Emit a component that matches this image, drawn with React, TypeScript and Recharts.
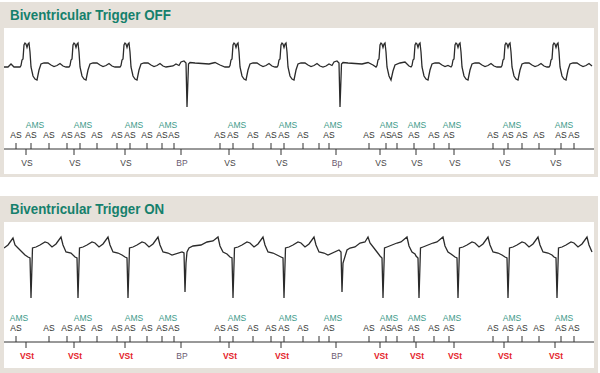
import { ComposedChart, Line, Scatter, XAxis, YAxis } from "recharts";

type Pt = [number, number];

// strip time runs 4..594, amplitude in mm above baseline (1 mm = 10 px here)
const X_MIN = 4;
const X_MAX = 594;

// beat shapes, [offset from the beat marker, amplitude]
const vsBeat: Pt[] = [
  [-7, 0], [-6, 0.15], [-5, 0.7], [-4, 0.8], [-3, 2.2], [-2, 2.4], [-1, 2.3], [0, 1.95],
  [1, 2.3], [2, 2.4], [3, 1.5], [4, 0], [6, -0.9], [8, -1.2], [10, -1.3], [12, -0.3],
  [14, 0.3], [17, 0.4], [21, 0.4], [24, 0.2], [27, 0.05], [30, 0.15], [33, 0.35], [36, 0.1], [39, 0],
];
const vsShortBeat: Pt[] = [
  [-7, 0], [-6, 0.15], [-5, 0.7], [-4, 0.8], [-3, 2.2], [-2, 2.4], [-1, 2.3], [0, 1.95],
  [1, 2.3], [2, 2.4], [3, 1.5], [4, 0], [6, -0.9], [8, -1.3], [10, -0.4], [12, 0.2],
  [17, 0.4], [22, 0.5], [26, 0.1],
];
const bpOffBeat: Pt[] = [
  [-14, 0.1], [-11, 0.3], [-8, 0.15], [-6, 0.5], [-3, 0.6], [-1, 0.4], [0, -4.0], [1.5, 0.3],
  [3, 0.45], [8, 0.4], [15, 0.35], [22, 0.3], [28, 0.45], [33, 0.2], [38, 0],
];
const vstBeat: Pt[] = [
  [-3, -0.9], [-1, -1.0], [0, -5.0], [1.5, 0], [5, 0.1], [9, 0.3], [14, 0.6], [17, 0.5],
  [21, 0.1], [25, 0.4], [30, 1.1], [32, 0.3], [35, -0.4], [40, -0.5], [44, -0.7],
];
const vstShortBeat: Pt[] = [
  [-3, -0.8], [-1, -1.0], [0, -5.0], [1.5, 0], [4, 0.1], [9, 0.3], [14, 0.5], [18, 0.6],
  [24, 1.1], [26, 0.2], [29, -0.4], [32, -0.6],
];
const bpOnBeat: Pt[] = [
  [-3, -0.4], [-1, -0.5], [0, -4.4], [1, -1.5], [2, -0.4], [4, 0], [8, 0.2], [16, 0.3],
  [22, 0.6], [28, 0.7], [33, 1.1], [35, 0.2], [38, -0.4], [42, -0.6],
];
const bpOnShortBeat: Pt[] = [
  [-3, -0.2], [-1, -0.4], [0, -4.4], [1, -1.5], [5, -0.2], [8, 0], [13, 0.1], [18, 0.5],
  [23, 0.6], [26, 1.1], [28, 0.5], [35, -0.4],
];

const shapes: Record<string, Pt[]> = {
  vs: vsBeat,
  vsShort: vsShortBeat,
  bp: bpOffBeat,
  vst: vstBeat,
  vstShort: vstShortBeat,
  bpOn: bpOnBeat,
  bpOnShort: bpOnShortBeat,
};

const offStart: Pt[] = [[4, 0], [8, 0], [11, 0.3], [14, 0], [19, 0]];
const offBeats: [number, string][] = [
  [27, "vs"], [76, "vs"], [127, "vs"], [187, "bp"], [236, "vs"], [284, "vs"],
  [340, "bp"], [383, "vsShort"], [418, "vs"], [458, "vs"], [508, "vs"], [556, "vs"],
];

const onStart: Pt[] = [[4, 0], [8, 0.3], [13, 1.0], [15, 0.3], [18, 0], [22, -0.4], [25, -0.7]];
const onBeats: [number, string][] = [
  [31, "vst"], [78, "vst"], [128, "vst"], [185, "bpOn"], [233, "vst"], [284, "vst"],
  [342, "bpOnShort"], [383, "vstShort"], [419, "vstShort"], [458, "vst"], [508, "vst"], [557, "vst"],
];

// marker channel
const offAS = [16, 31, 49, 67, 80, 97, 117, 130, 147, 162, 174, 220, 233, 253, 271, 284, 303, 319, 329, 369, 386, 397, 414, 434, 449, 493, 508, 522, 539, 561, 574];
const onAS = [16, 49, 67, 80, 97, 117, 130, 147, 162, 174, 220, 233, 253, 271, 284, 303, 319, 329, 369, 386, 397, 414, 434, 449, 493, 508, 522, 539, 561, 574];
const asUnlabeled = [319];
const offAMS = [35, 83, 134, 168, 237, 288, 333, 389, 417, 452, 512, 564];
const onAMS = [19, 83, 134, 168, 237, 288, 333, 389, 417, 452, 512, 564];
const ventTimes = [26, 74, 125, 181, 229, 281, 336, 380, 416, 454, 504, 555];
const offVentLabels = ["VS", "VS", "VS", "BP", "VS", "VS", "Bp", "VS", "VS", "VS", "VS", "VS"];
const onVentLabels = ["VSt", "VSt", "VSt", "BP", "VSt", "VSt", "BP", "VSt", "VSt", "VSt", "VSt", "VSt"];

const BEIGE = "#e6e1da";
const TEAL = "#15806c";
const LABEL_FONT = "'Liberation Sans', Arial, sans-serif";

function buildTrace(start: Pt[], beats: [number, string][]) {
  const out = start.map(([t, v]) => ({ t, v }));
  beats.forEach(([at, kind], i) => {
    const next = beats[i + 1];
    const limit = next ? next[0] + shapes[next[1]][0][0] : X_MAX + 1;
    shapes[kind].forEach(([dt, v]) => {
      if (at + dt < limit && at + dt <= X_MAX) out.push({ t: at + dt, v });
    });
  });
  return out;
}

const asShape = (props: any) => {
  const { cx, cy, payload } = props;
  return (
    <g>
      <line x1={cx} x2={cx} y1={cy - 6} y2={cy} stroke="#333" strokeWidth={1} />
      {payload.label && (
        <text x={cx} y={cy - 11} textAnchor="middle" fontSize={8.5} fill="#333" fontFamily={LABEL_FONT}>
          AS
        </text>
      )}
    </g>
  );
};

const amsShape = (props: any) => (
  <text x={props.cx} y={props.cy - 21} textAnchor="middle" fontSize={8.5} fill="#3c9a8a" fontFamily={LABEL_FONT}>
    AMS
  </text>
);

function VentTick(props: any) {
  const { x, y, payload, labels } = props;
  const label: string = labels[ventTimes.indexOf(payload.value)] ?? "";
  const paced = label === "VSt";
  const color = paced ? "#e4232b" : label.startsWith("B") ? "#6b5a70" : "#444";
  return (
    <text x={x + 1} y={y + 9} textAnchor="middle" fontSize={8.5} fontWeight={paced ? 700 : 400} fill={color} fontFamily={LABEL_FONT}>
      {label}
    </text>
  );
}

function Strip({
  start,
  beats,
  atrial,
  ams,
  ventLabels,
  ecgDomain,
  axisHeight,
}: {
  start: Pt[];
  beats: [number, string][];
  atrial: number[];
  ams: number[];
  ventLabels: string[];
  ecgDomain: [number, number];
  axisHeight: number;
}) {
  const trace = buildTrace(start, beats);
  const asData = atrial.map((t) => ({ t, y: 0, label: !asUnlabeled.includes(t) }));
  const amsData = ams.map((t) => ({ t, y: 0 }));
  return (
    <ComposedChart width={590} height={146} margin={{ top: 0, right: 0, bottom: 0, left: 0 }}>
      <XAxis
        type="number"
        dataKey="t"
        domain={[X_MIN, X_MAX]}
        allowDataOverflow
        ticks={ventTimes}
        interval={0}
        height={axisHeight}
        tickSize={6}
        axisLine={{ stroke: "#333" }}
        tickLine={{ stroke: "#333" }}
        tick={<VentTick labels={ventLabels} />}
      />
      <YAxis yAxisId="ecg" hide domain={ecgDomain} allowDataOverflow />
      <YAxis yAxisId="m" dataKey="y" hide domain={[0, 1]} />
      <Line
        yAxisId="ecg"
        data={trace}
        dataKey="v"
        type="linear"
        stroke="#2b2b2b"
        strokeWidth={1.3}
        dot={false}
        isAnimationActive={false}
      />
      <Scatter yAxisId="m" data={asData} dataKey="y" shape={asShape} isAnimationActive={false} />
      <Scatter yAxisId="m" data={amsData} dataKey="y" shape={amsShape} isAnimationActive={false} />
    </ComposedChart>
  );
}

function Panel({ top, height, title, children }: { top: number; height: number; title: string; children: any }) {
  return (
    <div style={{ position: "absolute", left: 0, top, width: 598, height, background: BEIGE }}>
      <div
        style={{
          position: "absolute",
          left: 10,
          top: 4.5,
          fontFamily: "'Liberation Sans', Arial, sans-serif",
          fontWeight: 700,
          fontSize: 14.5,
          lineHeight: "16px",
          color: TEAL,
          whiteSpace: "nowrap",
          transform: "scaleX(0.92)",
          transformOrigin: "0 0",
        }}
      >
        {title}
      </div>
      <div style={{ position: "absolute", left: 4, top: 26, width: 590, height: 146, background: "#fff" }}>
        {children}
      </div>
    </div>
  );
}

export default function App() {
  return (
    <div style={{ position: "absolute", left: 0, top: 0, width: 600, height: 373, background: "#fff", overflow: "hidden" }}>
      <Panel top={2} height={175} title="Biventricular Trigger OFF">
        <Strip
          start={offStart}
          beats={offBeats}
          atrial={offAS}
          ams={offAMS}
          ventLabels={offVentLabels}
          ecgDomain={[-8.2, 3.9]}
          axisHeight={25}
        />
      </Panel>
      <Panel top={196} height={177} title="Biventricular Trigger ON">
        <Strip
          start={onStart}
          beats={onBeats}
          atrial={onAS}
          ams={onAMS}
          ventLabels={onVentLabels}
          ecgDomain={[-9.4, 2.6]}
          axisHeight={26}
        />
      </Panel>
    </div>
  );
}
